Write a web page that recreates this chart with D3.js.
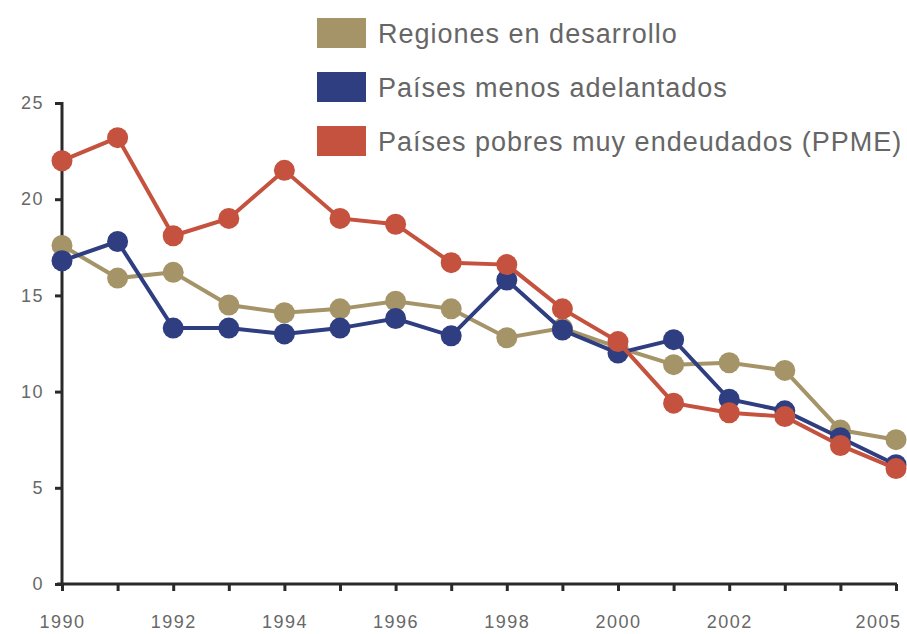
<!DOCTYPE html>
<html>
<head>
<meta charset="utf-8">
<script src="https://cdn.jsdelivr.net/npm/d3@7"></script>
<style>
  body { margin: 0; background: #fff; }
  svg { display: block; font-family: "Liberation Sans", Arial, sans-serif; }
</style>
</head>
<body>
<div class="chart"></div>
<script>
const years = [1990, 1991, 1992, 1993, 1994, 1995, 1996, 1997, 1998, 1999, 2000, 2001, 2002, 2003, 2004, 2005];
const labelYears = [1990, 1992, 1994, 1996, 1998, 2000, 2002, 2005];
const yTicks = [0, 5, 10, 15, 20, 25];

const seriesNames = ["Regiones en desarrollo", "Países menos adelantados", "Países pobres muy endeudados (PPME)"];
const desarrollo = [17.6, 15.9, 16.2, 14.5, 14.1, 14.3, 14.7, 14.3, 12.8, 13.3, 12.3, 11.4, 11.5, 11.1, 8.0, 7.5];
const menosAdelantados = [16.8, 17.8, 13.3, 13.3, 13.0, 13.3, 13.8, 12.9, 15.8, 13.2, 12.0, 12.7, 9.6, 9.0, 7.6, 6.2];
const ppme = [22.0, 23.2, 18.1, 19.0, 21.5, 19.0, 18.7, 16.7, 16.6, 14.3, 12.6, 9.4, 8.9, 8.7, 7.2, 6.0];

const colors = ["#a59468", "#2e3e80", "#c5523e"];

const width = 907;
const height = 634;

const svg = d3.select(".chart")
  .append("svg")
    .attr("width", width)
    .attr("height", height);

const x = d3.scaleLinear().domain([1990, 2005]).range([62, 896]);
const y = d3.scaleLinear().domain([0, 25]).range([584, 103]);

// axes
const xAxis = svg.append("g")
    .attr("transform", `translate(0, ${y(0)})`)
    .call(d3.axisBottom(x).tickValues(years).tickSize(7).tickSizeOuter(0).tickFormat(""));

xAxis.selectAll(".tick")
  .filter((d) => labelYears.includes(d))
  .append("text")
    .attr("y", 44)
    .attr("text-anchor", (d) => d === 2005 ? "end" : "middle")
    .attr("dx", (d) => d === 2005 ? 5 : 0)
    .text((d) => d);

const yAxis = svg.append("g")
    .attr("transform", `translate(${x(1990)}, 0)`)
    .call(d3.axisLeft(y).tickValues(yTicks).tickSize(7).tickSizeOuter(0).tickPadding(11));

svg.selectAll(".domain, .tick line")
  .attr("stroke", "#2a2a2a")
  .attr("stroke-width", 3);
xAxis.select(".domain").attr("d", `M${x(1990) - 5},0H${x(2005) + 1}`);
yAxis.select(".domain").attr("d", `M0,${y(25) - 1}V${y(0) + 2}`);

svg.selectAll(".tick text")
  .attr("font-size", 18)
  .attr("letter-spacing", 1.5)
  .attr("fill", "#686868");

// lines
const data = [desarrollo, menosAdelantados, ppme];
const line = d3.line()
  .x((d, i) => x(years[i]))
  .y((d) => y(d));

const series = svg.append("g")
  .selectAll("g")
  .data(data).enter()
  .append("g")
    .attr("fill", (d, i) => colors[i])
    .attr("stroke", (d, i) => colors[i]);

series.append("path")
  .attr("d", line)
  .attr("fill", "none")
  .attr("stroke-width", 4);

series.selectAll("circle")
  .data((d) => d).enter()
  .append("circle")
    .attr("cx", (d, i) => x(years[i]))
    .attr("cy", (d) => y(d))
    .attr("r", 10.5)
    .attr("stroke", "none");

// legend
const legend = svg.append("g")
  .selectAll("g")
  .data(seriesNames).enter()
  .append("g")
    .attr("transform", (d, i) => `translate(317, ${33 + i * 54})`);

legend.append("rect")
  .attr("y", -15)
  .attr("width", 49)
  .attr("height", 30)
  .attr("fill", (d, i) => colors[i]);

legend.append("text")
  .attr("x", 61)
  .attr("y", 10)
  .attr("font-size", 27)
  .attr("letter-spacing", 1)
  .attr("fill", "#666")
  .text((d) => d);
</script>
</body>
</html>
